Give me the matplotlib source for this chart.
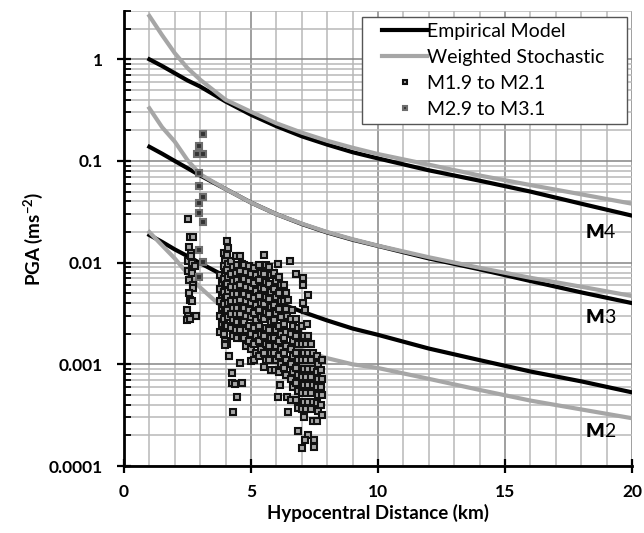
import numpy as np
import matplotlib
matplotlib.use("Agg")
import matplotlib.pyplot as plt
from matplotlib.legend_handler import HandlerLine2D
from matplotlib.ticker import LogLocator, FixedLocator, MultipleLocator, NullFormatter

plt.rcParams['font.family'] = ['Lato', 'DejaVu Sans']
plt.rcParams['mathtext.fontset'] = 'custom'
plt.rcParams['mathtext.rm'] = 'Lato'
plt.rcParams['mathtext.bf'] = 'Lato:bold'

# model curves
dist = [1, 1.5, 2, 2.5, 3, 4, 5, 6, 7, 8, 9, 10, 12, 14, 16, 18, 20]

emp_m4 = [1.0, 0.86, 0.73, 0.62, 0.54, 0.385, 0.285, 0.22, 0.175, 0.145, 0.122, 0.106, 0.081, 0.064, 0.050, 0.038, 0.029]
emp_m3 = [0.138, 0.118, 0.100, 0.085, 0.072, 0.053, 0.039, 0.030, 0.024, 0.0198, 0.0168, 0.0146, 0.0110, 0.0086, 0.0066, 0.0051, 0.0040]
emp_m2 = [0.0187, 0.0160, 0.0135, 0.0116, 0.0099, 0.0073, 0.0054, 0.0041, 0.0033, 0.0027, 0.00225, 0.00195, 0.00143, 0.00110, 0.00085, 0.00068, 0.00053]

sto_m4 = [2.67, 1.73, 1.15, 0.82, 0.63, 0.40, 0.305, 0.235, 0.19, 0.158, 0.135, 0.117, 0.092, 0.072, 0.058, 0.047, 0.038]
sto_m3 = [0.33, 0.215, 0.155, 0.102, 0.074, 0.053, 0.039, 0.030, 0.0242, 0.0200, 0.0170, 0.0147, 0.0113, 0.0089, 0.0071, 0.0058, 0.0047]
sto_m2 = [0.020, 0.0148, 0.011, 0.0078, 0.0057, 0.0034, 0.0024, 0.0018, 0.00138, 0.00115, 0.00100, 0.00092, 0.00072, 0.00056, 0.00044, 0.00036, 0.000295]

# recorded PGA, M1.9 to M2.1
m2_x = [2.53, 2.6, 2.7, 2.57, 2.62, 2.53, 2.66, 2.53, 2.66, 2.57, 2.7, 2.73, 2.6, 2.66, 2.47, 2.53, 2.83, 2.47, 2.6, 2.8, 2.62, 2.55,
        3.78, 3.84, 3.78, 3.84, 3.78, 3.84, 3.78, 3.84, 3.78,
        3.92, 3.98, 3.92, 3.98, 3.92, 3.98, 3.92, 3.98, 3.92, 3.98, 3.92, 3.98, 3.92, 3.98,
        4.05, 4.11, 4.05, 4.11, 4.05, 4.11, 4.05, 4.11, 4.05, 4.11, 4.05, 4.11, 4.05, 4.04, 3.98,
        4.22, 4.28, 4.22, 4.28, 4.22, 4.28, 4.22, 4.28, 4.22, 4.28, 4.22, 4.28, 4.15, 4.24, 4.24,
        4.39, 4.45, 4.39, 4.45, 4.39, 4.45, 4.39, 4.45, 4.39, 4.45, 4.39, 4.45, 4.37, 4.46, 4.30,
        4.56, 4.63, 4.56, 4.63, 4.56, 4.63, 4.56, 4.63, 4.56, 4.63, 4.56, 4.63, 4.57, 4.63,
        4.74, 4.82, 4.74, 4.82, 4.74, 4.82, 4.74, 4.82, 4.74, 4.82, 4.74, 4.82,
        4.92, 5.0, 4.92, 5.0, 4.92, 5.0, 4.92, 5.0, 4.92, 5.0, 4.92, 5.0, 5.0,
        5.11, 5.19, 5.11, 5.19, 5.11, 5.19, 5.11, 5.19, 5.11, 5.19, 5.11, 5.19, 5.11,
        5.31, 5.39, 5.31, 5.39, 5.31, 5.39, 5.31, 5.39, 5.31, 5.39, 5.31, 5.39, 5.31, 5.52,
        5.61, 5.51, 5.59, 5.51, 5.59, 5.51, 5.59, 5.51, 5.59, 5.51, 5.59, 5.51, 5.59, 5.51,
        5.71, 5.79, 5.71, 5.79, 5.71, 5.79, 5.71, 5.79, 5.71, 5.79, 5.71, 5.79, 5.71, 5.79,
        6.07, 5.90, 5.98, 5.90, 5.98, 5.90, 5.98, 5.90, 5.98, 5.90, 5.98, 5.90, 5.98, 5.94, 6.08,
        6.11, 6.19, 6.11, 6.19, 6.11, 6.19, 6.11, 6.19, 6.11, 6.19, 6.11, 6.19, 6.11, 6.14,
        6.31, 6.39, 6.31, 6.39, 6.40, 6.31, 6.39, 6.31, 6.39, 6.31, 6.39, 6.31, 6.39, 6.40, 6.47, 6.47, 6.53,
        6.60, 6.56, 6.64, 6.56, 6.64, 6.56, 6.64, 6.56, 6.64, 6.56, 6.64, 6.56, 6.79,
        6.78, 6.86, 6.78, 6.86, 6.78, 6.86, 6.78, 6.86, 6.78, 6.86, 6.78, 6.86, 6.86,
        7.06, 7.06, 7.06, 6.99, 7.07, 6.99, 7.07, 6.99, 7.07, 6.99, 7.07, 6.99, 7.07, 6.99, 7.07, 7.00,
        7.23, 7.12, 7.19, 7.25, 7.18, 7.26, 7.18, 7.26, 7.18, 7.26, 7.18, 7.26, 7.18, 7.26, 7.13,
        7.38, 7.46, 7.38, 7.46, 7.38, 7.46, 7.38, 7.46, 7.38, 7.46, 7.49, 7.49,
        7.58, 7.64, 7.58, 7.64, 7.58, 7.64, 7.58, 7.64, 7.58,
        7.78, 7.74, 7.78, 7.74, 7.78, 7.74, 7.78]
m2_y = [0.0269, 0.018, 0.018, 0.0144, 0.0125, 0.0103, 0.0099, 0.0082, 0.0079, 0.0068, 0.0060, 0.0056, 0.0043, 0.0042, 0.0034, 0.0030, 0.0030, 0.0027, 0.0028, 0.0092, 0.0115, 0.0050,
        0.0075, 0.0063, 0.0055, 0.0048, 0.0042, 0.0036, 0.0030, 0.0025, 0.0021,
        0.0125, 0.0105, 0.0092, 0.0080, 0.0069, 0.0060, 0.0052, 0.0045, 0.0039, 0.0033, 0.0028, 0.0024, 0.0020, 0.0017,
        0.0165, 0.0140, 0.0118, 0.0098, 0.0085, 0.0072, 0.0062, 0.0053, 0.0046, 0.0040, 0.0034, 0.0029, 0.0024, 0.0016, 0.00155,
        0.0105, 0.0090, 0.0077, 0.0066, 0.0057, 0.0049, 0.0042, 0.0036, 0.0031, 0.0027, 0.0023, 0.0019, 0.0012, 0.00082, 0.00066,
        0.0115, 0.0095, 0.0080, 0.0068, 0.0058, 0.0049, 0.0042, 0.0036, 0.0031, 0.0026, 0.0022, 0.0018, 0.00064, 0.00048, 0.00034,
        0.0115, 0.0098, 0.0083, 0.0070, 0.0060, 0.0051, 0.0043, 0.0037, 0.0031, 0.0026, 0.0022, 0.0018, 0.00103, 0.00066,
        0.0095, 0.0081, 0.0069, 0.0058, 0.0049, 0.0042, 0.0036, 0.0030, 0.0026, 0.0022, 0.0018, 0.0015,
        0.0092, 0.0078, 0.0066, 0.0056, 0.0047, 0.0040, 0.0034, 0.0029, 0.0024, 0.0020, 0.0017, 0.0014, 0.00107,
        0.0088, 0.0075, 0.0063, 0.0053, 0.0045, 0.0038, 0.0032, 0.0027, 0.0023, 0.0019, 0.0016, 0.0013, 0.0011,
        0.0095, 0.0080, 0.0067, 0.0056, 0.0047, 0.0040, 0.0034, 0.0029, 0.0024, 0.0020, 0.0017, 0.0014, 0.0012, 0.0119,
        0.0095, 0.0078, 0.0065, 0.0055, 0.0046, 0.0039, 0.0033, 0.0028, 0.0023, 0.0019, 0.0016, 0.0013, 0.0011, 0.00095,
        0.0090, 0.0075, 0.0062, 0.0052, 0.0044, 0.0037, 0.0031, 0.0026, 0.0022, 0.0018, 0.0015, 0.0013, 0.0011, 0.00088,
        0.0097, 0.0080, 0.0066, 0.0055, 0.0046, 0.0038, 0.0032, 0.0027, 0.0022, 0.0018, 0.0015, 0.0013, 0.0011, 0.00088, 0.00048,
        0.0072, 0.0060, 0.0050, 0.0042, 0.0035, 0.0029, 0.0024, 0.0020, 0.0017, 0.0014, 0.0012, 0.0010, 0.00085, 0.00063,
        0.0060, 0.0050, 0.0042, 0.0035, 0.0030, 0.0025, 0.0021, 0.0018, 0.0015, 0.0013, 0.0011, 0.00092, 0.00078, 0.00048, 0.00034, 0.0043, 0.0104,
        0.0034, 0.0028, 0.0024, 0.0020, 0.0017, 0.0014, 0.0012, 0.0010, 0.00085, 0.00072, 0.00060, 0.00045, 0.0077,
        0.0028, 0.0023, 0.0019, 0.0016, 0.0013, 0.0011, 0.00093, 0.00078, 0.00065, 0.00055, 0.00045, 0.00037, 0.00022,
        0.0071, 0.0060, 0.0040, 0.0024, 0.0019, 0.0016, 0.0013, 0.0011, 0.00090, 0.00075, 0.00062, 0.00052, 0.00043, 0.00036, 0.00030, 0.00015,
        0.0048, 0.0034, 0.0025, 0.0019, 0.0016, 0.0013, 0.0011, 0.00090, 0.00075, 0.00062, 0.00052, 0.00043, 0.00036, 0.00020, 0.00018,
        0.0016, 0.0013, 0.0011, 0.00090, 0.00075, 0.00062, 0.00052, 0.00043, 0.00036, 0.00028, 0.00018, 0.000153,
        0.0012, 0.0010, 0.00085, 0.00072, 0.00060, 0.00050, 0.00042, 0.00035, 0.00028,
        0.0011, 0.00088, 0.00072, 0.00060, 0.00050, 0.00040, 0.00032]

# recorded PGA, M2.9 to M3.1
m3_x = [3.12, 2.96, 2.89, 3.12, 2.94, 2.94, 3.12, 2.96, 2.96, 3.12, 2.94, 3.10, 2.94]
m3_y = [0.184, 0.140, 0.117, 0.116, 0.0757, 0.0568, 0.044, 0.039, 0.0306, 0.0253, 0.0133, 0.0102, 0.00718]

yticks = [0.0001, 0.001, 0.01, 0.1, 1]
ytick_labels = ['0.0001', '0.001', '0.01', '0.1', '1']
xticks = [0, 5, 10, 15, 20]

# magnitude labels next to the curves
mag_labels = ['4', '3', '2']
mag_label_y = [0.020, 0.0029, 0.000216]

fig = plt.figure(figsize=(6.44, 5.33), dpi=100)
ax = fig.add_axes([0.1925, 0.1257, 0.789, 0.854])

black = '#000000'
grey = '#a6a6a6'
lw = 3.0
ax.plot(dist, emp_m4, color=black, lw=lw, label='Empirical Model', zorder=3)
ax.plot(dist, emp_m3, color=black, lw=lw, zorder=3)
ax.plot(dist, emp_m2, color=black, lw=lw, zorder=3)
ax.plot(dist, sto_m4, color=grey, lw=lw, label='Weighted Stochastic', zorder=4)
ax.plot(dist, sto_m3, color=grey, lw=lw, zorder=4)
ax.plot(dist, sto_m2, color=grey, lw=lw, zorder=4)

ax.plot(m2_x, m2_y, ls='none', marker='s', ms=4.8, mfc='#a6a6a6', mec='#111111', mew=1.5,
        label='M1.9 to M2.1', zorder=5)
ax.plot(m3_x, m3_y, ls='none', marker='s', ms=4.8, mfc='#333333', mec='#6e6e6e', mew=1.5,
        label='M2.9 to M3.1', zorder=6)

ax.set_yscale('log')
ax.set_xlim(0, 20)
ax.set_ylim(1e-4, 3.0)

ax.xaxis.set_major_locator(FixedLocator(xticks))
ax.xaxis.set_minor_locator(MultipleLocator(1))
ax.yaxis.set_major_locator(FixedLocator(yticks))
ax.set_yticklabels(ytick_labels)
ax.yaxis.set_minor_locator(LogLocator(base=10, subs=np.arange(2, 10)))
ax.yaxis.set_minor_formatter(NullFormatter())

ax.grid(which='minor', color='#b8b8b8', lw=1.1, zorder=0)
ax.grid(which='major', color='#858585', lw=1.1, zorder=0)
ax.set_axisbelow(True)

for s in ['top', 'right']:
    ax.spines[s].set_visible(False)
for s in ['left', 'bottom']:
    ax.spines[s].set_linewidth(2)
    ax.spines[s].set_zorder(7)

ax.tick_params(which='major', direction='inout', length=10, width=1.6, labelsize=12.5)
ax.tick_params(axis='y', which='major', pad=10)
ax.tick_params(axis='x', which='major', pad=8)
ax.tick_params(axis='y', which='minor', direction='in', length=5, width=1.3)
ax.tick_params(axis='x', which='minor', length=0)
for t in ax.get_xticklabels() + ax.get_yticklabels():
    t.set_fontweight('bold')

ax.set_xlabel('Hypocentral Distance (km)', fontsize=13.5, fontweight='bold', labelpad=3)
ax.set_ylabel(r'PGA (ms$^{\mathbf{-2}}$)', fontsize=13.5, fontweight='bold', labelpad=3)

for txt, yy in zip(mag_labels, mag_label_y):
    ax.text(18.9, yy, 'M', fontsize=14, fontweight='heavy', ha='right', va='center', zorder=8)
    ax.text(18.9, yy, txt, fontsize=14, ha='left', va='center', zorder=8)

handles, labels = ax.get_legend_handles_labels()
leg = ax.legend(handles, labels, loc='upper left', bbox_to_anchor=(0.4685, 0.986, 0.5215, 0.0),
                mode='expand', borderaxespad=0, fontsize=14, handlelength=3.05, handletextpad=0.0,
                labelspacing=0.46, markerscale=0.75, fancybox=False, framealpha=1,
                edgecolor='#555555', borderpad=0.3,
                handler_map={h: HandlerLine2D(xpad=0.75) for h in handles})
leg.get_frame().set_linewidth(1.0)
leg.set_zorder(9)

fig.savefig('out.png', dpi=100)
